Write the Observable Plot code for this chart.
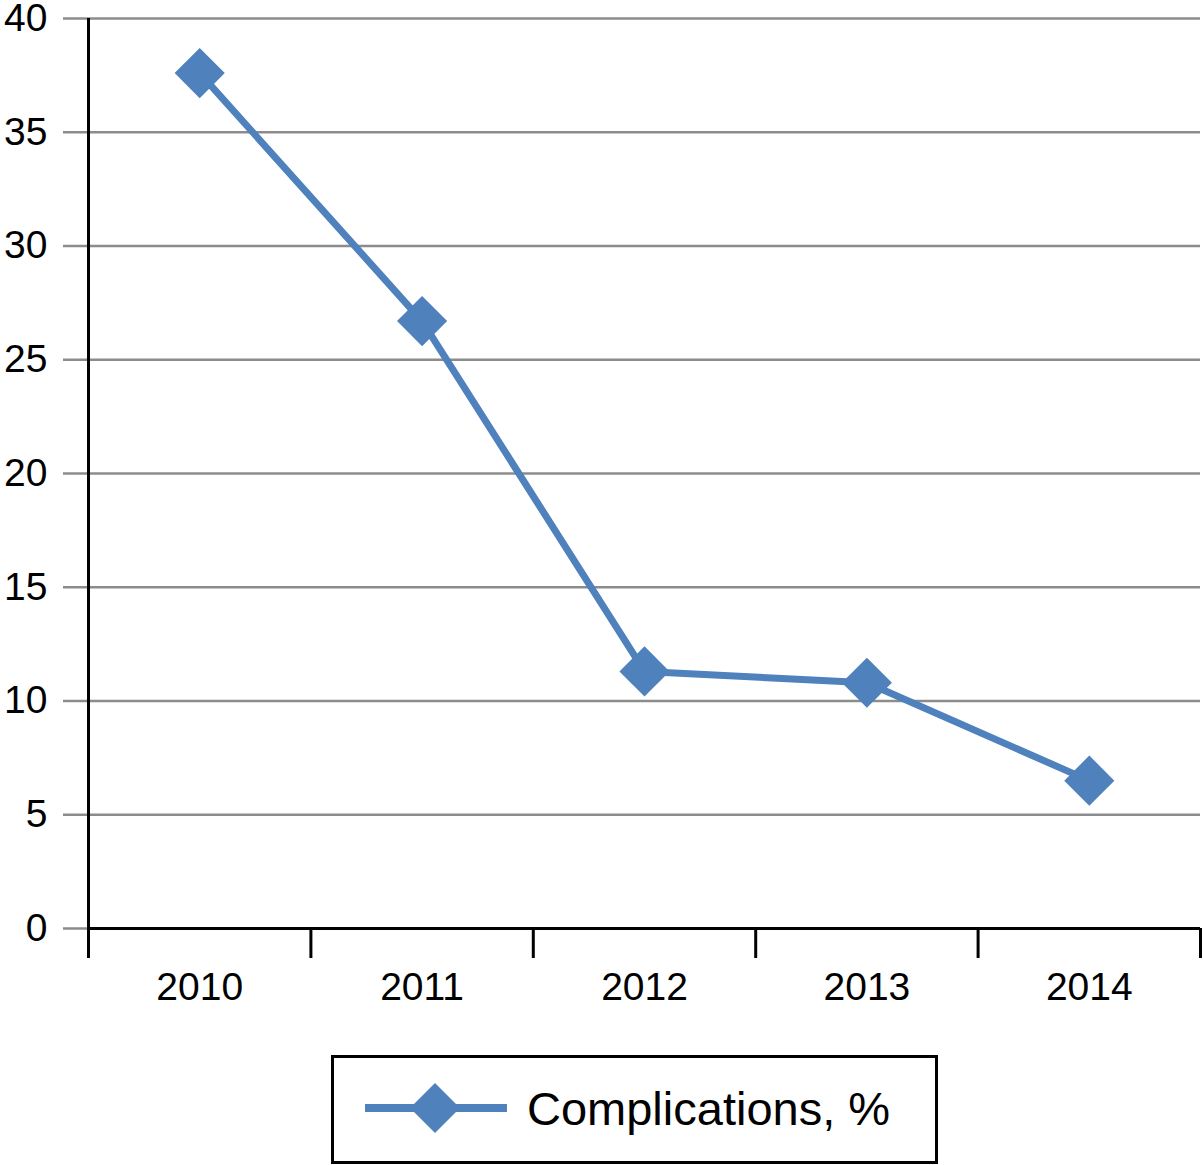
<!DOCTYPE html>
<html><head><meta charset="utf-8">
<script src="https://cdn.jsdelivr.net/npm/d3@7"></script>
<script src="https://cdn.jsdelivr.net/npm/@observablehq/plot@0.6"></script>
<style>
html,body{margin:0;padding:0;background:#fff;}
body{font-family:"Liberation Sans",Arial,Helvetica,sans-serif;}
#chart{position:relative;width:1203px;height:1165px;overflow:hidden;}
#chart svg.plot{display:block;}
#legend{position:absolute;left:331px;top:1055px;width:601px;height:103px;border:3px solid #000;background:#fff;}
#legend svg{position:absolute;left:0;top:0;}
#legend span{position:absolute;left:193px;top:27px;font-size:47px;line-height:1;color:#000;white-space:nowrap;}
</style></head>
<body><div id="chart"></div>
<script>
const years = ["2010", "2011", "2012", "2013", "2014"];
const complications = [37.6, 26.7, 11.3, 10.8, 6.5];
const yTicks = [0, 5, 10, 15, 20, 25, 30, 35, 40];
const seriesName = "Complications, %";
const blue = "#4F81BD";

const data = years.map((year, i) => ({i, year, value: complications[i]}));
const bounds = d3.range(-0.5, years.length, 1);

const diamond = {
  draw(context, size) {
    const r = Math.sqrt(size / 2);
    context.moveTo(0, -r);
    context.lineTo(r, 0);
    context.lineTo(0, r);
    context.lineTo(-r, 0);
    context.closePath();
  }
};

const plot = Plot.plot({
  width: 1203,
  height: 1045,
  marginTop: 18,
  marginBottom: 117,
  marginLeft: 88,
  marginRight: 3,
  x: {type: "linear", domain: [-0.5, years.length - 0.5]},
  y: {domain: [0, 40]},
  style: {fontFamily: "Liberation Sans, Arial, sans-serif", background: "white", color: "black", overflow: "visible"},
  marks: [
    Plot.ruleY(yTicks, {stroke: "#8c8c8c", strokeWidth: 2.5}),
    Plot.axisY({ticks: yTicks, tickSize: 25, tickPadding: 16, stroke: "#8c8c8c", strokeWidth: 2.5, strokeOpacity: 1, fontSize: 39, label: null, tickFormat: d => String(d)}),
    Plot.ruleX([-0.5], {stroke: "black", strokeWidth: 3}),
    Plot.ruleY([0], {stroke: "black", strokeWidth: 3}),
    Plot.axisX({ticks: bounds, tickSize: 30, stroke: "black", strokeWidth: 3, strokeOpacity: 1, tickFormat: () => "", label: null}),
    Plot.axisX({ticks: d3.range(years.length), tickSize: 0, tickPadding: 44, fontSize: 39, tickFormat: i => years[i], label: null}),
    Plot.line(data, {x: "i", y: "value", stroke: blue, strokeWidth: 7}),
    Plot.dot(data, {x: "i", y: "value", symbol: diamond, r: 20, fill: blue, stroke: "none"})
  ]
});
const chart = document.getElementById("chart");
chart.appendChild(plot);

const legend = document.createElement("div");
legend.id = "legend";
legend.innerHTML = `<svg width="190" height="103"><line x1="31" x2="173" y1="50" y2="50" stroke="${blue}" stroke-width="8"/><path d="M101,25L126,50L101,75L76,50Z" fill="${blue}"/></svg><span></span>`;
legend.querySelector("span").textContent = seriesName;
chart.appendChild(legend);
</script>
</body></html>
